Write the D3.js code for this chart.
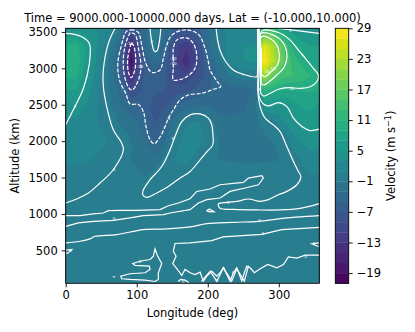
<!DOCTYPE html>
<html>
<head>
<meta charset="utf-8">
<script src="https://cdnjs.cloudflare.com/ajax/libs/d3/7.8.5/d3.min.js"></script>
<style>
body { margin: 0; background: #fff; }
text { font-family: "DejaVu Sans", sans-serif; fill: #000; }
</style>
</head>
<body>
<div id="svgContainer"></div>
<script>
var width = 415;
var height = 332;

// grid the velocity field was read on (deg, km)
var lons = [0, 15, 30, 45, 60, 75, 85, 92, 100, 110, 125, 140, 155, 170, 185, 200, 215, 230, 250, 265, 270, 273, 276, 280, 290, 300, 310, 320, 335, 345, 357];
var alts = [50, 300, 600, 800, 1000, 1250, 1500, 1750, 2000, 2250, 2500, 2700, 2900, 3100, 3300, 3550];

// m/s, one row per altitude, bottom to top
var v50 = [-.2, -.2, -.2, -.2, -.2, -.2, -.2, -.2, -.2, -.2, -.2, -.2, -.2, -.2, -.2, -.2, -.2, -.2, -.2, -.2, -.2, -.2, -.2, -.2, -.2, -.2, -.2, -.2, -.2, -.2, -.2];
var v300 = [-.2, -.2, -.2, -.2, -.2, -.2, -.2, -.2, -.2, -.2, -.1, -.1, -.1, -.2, -.2, -.1, -.1, -.1, -.1, -.1, -.1, -.1, -.1, -.1, -.1, -.1, -.1, -.2, -.2, -.2, -.2];
var v600 = [-.1, -.1, -.1, -.1, -.2, -.2, -.2, -.2, -.2, -.2, -.2, -.2, -.2, -.2, -.2, -.2, -.2, -.2, -.2, -.2, -.2, -.2, -.2, -.2, -.2, -.2, -.2, -.2, -.2, -.1, -.1];
var v800 = [-.1, -.1, -.1, -.2, -.2, -.2, -.2, -.2, -.2, -.2, -.2, -.2, -.2, -.2, -.2, -.2, -.2, -.2, -.2, -.2, -.2, -.2, -.2, -.2, -.2, -.2, -.2, -.2, -.1, -.1, -.1];
var v1000 = [.1, .1, .1, 0, -.1, -.1, -.2, -.2, -.2, -.2, -.2, -.2, -.2, -.2, -.2, -.2, -.2, -.2, -.2, -.2, -.2, -.2, -.2, -.2, -.2, -.2, -.2, -.2, -.1, -.1, -.1];
var v1250 = [.3, .3, .2, -.1, -.2, -.2, -.3, -.3, -.3, -.2, .2, .1, -.1, -.2, -.2, -.2, -.2, -.2, -.2, -.2, -.2, -.2, -.2, -.1, -.2, -.1, -.1, -.1, -.1, -.1, -.1];
var v1500 = [.6, .5, .4, .3, -.2, -.5, -.6, -.7, -.8, -.9, .3, .2, .2, -.3, -.5, -.5, -.4, -.4, -.3, -.2, -.2, -.2, -.1, 0, -.3, -.2, -.1, 0, .3, .7, .8];
var v1750 = [1.2, 1.2, 1.1, .8, .3, -.2, -.8, -1, -1.2, -2.2, -2.5, -.2, 1.2, 1.5, .3, -.9, -1, -1.1, -1.2, -1.2, -1.2, -1.2, -1.2, -1.2, -1.1, -1.05, -.5, 0, 1.5, 1.8, 1.8];
var v2000 = [1.8, 1.8, 1.7, 1.5, 1, .3, -.5, -.9, -1.5, -2.8, -5.3, -3, .5, 1.6, 1.7, .8, -.9, -1.8, -2, -1.8, -1.6, -1.6, -1.5, -1.3, -1, -.7, .2, 2, 3.5, 4, 4];
var v2250 = [2.5, 2.5, 1.7, 1, .3, -1, -1.5, -2, -2.8, -4.7, -7, -4.8, -1.5, .8, 1.3, .5, -1.8, -2.5, -2.5, -1.8, -1.2, -1, -.8, -.6, .1, 1.5, 3, 4.6, 5.8, 6, 6];
var v2500 = [4, 5.2, 2.7, 1, -.5, -2.5, -3.8, -4.8, -5, -5.5, -8, -7.5, -5, -4, -3.5, -3, -4, -4, -3.5, -1.5, -.5, 0, 3.5, 5.3, 5.5, 5.2, 5, 6.5, 7.5, 7.5, 7];
var v2700 = [7, 7, 4, 1.2, -.8, -3.5, -5.5, -10, -8, -6.5, -6.5, -7, -8, -7.5, -6.5, -5.2, -4.3, -4.5, -4, -3, -1.5, .5, 8, 11.5, 10.3, 9.5, 9, 9, 9.3, 9.3, 9];
var v2900 = [9.5, 9.5, 5, 2, -1, -5, -11, -15.5, -11, -7, -6, -6.5, -10.5, -10.5, -8.5, -6.5, -3, -1, .2, -.3, .5, 7, 21, 22, 17.5, 14.5, 13.5, 13, 12, 11, 9.7];
var v3100 = [10.5, 10.5, 6, 2.5, -1, -4.5, -10.5, -19.5, -11.5, -7, -3, -6, -11, -14.5, -10, -5, -1.5, 1.5, 3, 3, 4, 13, 27, 29, 24.5, 20, 14.8, 12, 10, 8, 7.5];
var v3300 = [10, 10, 6.5, 3, 0, -4, -11, -16, -11.5, -4.5, -.5, -4.5, -10.5, -12.5, -9.5, -3.5, -.5, 2, 3, 3, 4, 11, 24, 27, 23.5, 18.5, 14, 10.5, 8, 7, 7];
var v3550 = [4, 4, 4, 3, 2, 0, -6, -7, -6, -4, 1, -3, -6, -7, -6, -3, -.5, 1.5, 2, 2, 2, 3, 10, 12, 13, 9, 7, 5, 4, 4, 4];
var rows = [v50, v300, v600, v800, v1000, v1250, v1500, v1750, v2000, v2250, v2500, v2700, v2900, v3100, v3300, v3550];

// colour levels
var levels = d3.range(-21, 30, 2);
var barTicks = [-19, -13, -7, -1, 5, 11, 17, 23, 29];
var xTicks = [0, 100, 200, 300];
var yTicks = [500, 1000, 1500, 2000, 2500, 3000, 3500];

// overlaid contours, [lon, alt]
var leftBlob = [[0, 2225], [13, 2475], [25, 2726], [33.3, 3068], [33.3, 3342], [22.5, 3434], [10.8, 3470], [0, 3480]];
var zeroLeft = [[69.5, 3550], [60, 3342], [53, 2977], [53, 2749], [57.7, 2475], [67, 2155], [78.8, 1973], [81.2, 1881], [67, 1607], [48.3, 1424], [31.9, 1287], [15.5, 1205], [0, 1150]];
var pocket = [[118.7, 3550], [121.1, 3364], [124.8, 3237], [128.2, 3237], [131.8, 3364], [133.8, 3550]];
var zeroTop = [[211.7, 3550], [213.5, 3411], [217.3, 3250], [224.4, 3104], [236, 2977], [250.1, 2918], [269, 2885], [270, 2950], [270, 3550]];
var lobe = [[109.3, 1333], [118.7, 1470], [135.2, 1652], [146.9, 1881], [153.9, 2063], [163.4, 2268], [175.1, 2360], [189.2, 2374], [200.8, 2315], [205.6, 2223], [207, 2114], [207, 1949], [198.6, 1853], [191.5, 1771], [175.1, 1583], [161, 1493], [144.5, 1378], [128.2, 1288], [114.1, 1227], [108.5, 1264]];
var lineA = [[0, 977], [20.1, 977], [38.9, 1000], [53, 1013], [60, 1045], [76.5, 1049], [100, 1049], [132.8, 1059], [144.5, 1113], [158.6, 1150], [175.1, 1209], [184.5, 1309], [203.2, 1342], [217.3, 1401], [250.1, 1433], [257.2, 1493], [276, 1525], [278.3, 1493], [271.3, 1401], [252.5, 1356], [231.4, 1309], [217.3, 1219], [198.6, 1196], [186.8, 1150], [175.1, 1059], [146.9, 1013], [137.5, 990], [109.3, 977], [90.6, 945], [67, 912], [38.9, 898], [17.7, 876], [0, 830]];
var lineB = [[0, 603], [20.1, 625], [34.2, 657], [41.3, 693], [71.8, 716], [109.3, 785], [142.3, 794], [175.1, 822], [198.6, 867], [236, 885], [271.3, 898], [311.3, 945], [339.4, 967], [357, 977]];
var ringA = [[275.5, 2908], [275.5, 3200], [275.5, 3433], [287.7, 3411], [297.2, 3319], [300.8, 3182], [298, 3045], [289.2, 2953], [280.7, 2885], [276, 2908]];
var ringB = [[275, 2795], [275, 3200], [275, 3479], [292.4, 3456], [305.1, 3364], [311.3, 3205], [307.9, 3022], [297.2, 2908], [287.7, 2826], [278.3, 2771], [275, 2795]];
var ringC = [[274.5, 2657], [274.5, 3200], [276, 3511], [299.4, 3493], [316, 3388], [327.6, 3251], [339.4, 3114], [348.7, 3000], [355.8, 2908], [353.5, 2816], [344.1, 2748], [330, 2726], [313.5, 2734], [299.4, 2712], [287.7, 2657], [278.3, 2620], [275, 2657]];
var ringD = [[272.5, 3550], [272.5, 3000], [272.3, 2611], [278.3, 2511], [285.4, 2484], [299.4, 2529], [311.3, 2474], [320.6, 2315], [332.4, 2200], [344.1, 2145], [357, 2164]];
var ringE = [[271, 3550], [271, 3000], [270.4, 2703], [273.7, 2474], [280.7, 2315], [292.4, 2223], [301.8, 2131], [311.3, 1926], [320.6, 1720], [327.6, 1583], [331, 1515], [325.4, 1401], [311.3, 1310], [299.4, 1264], [285.4, 1196], [273.7, 1172], [257.2, 1205], [240.8, 1172], [226.8, 1159], [214.9, 1137], [217.3, 1077], [236, 1063], [269, 1055], [301.8, 1055], [330, 1077], [357, 1141]];
var topRight = [[299, 3550], [316, 3530], [337, 3505], [357, 3480]];
var dashOuter = [[95.2, 3529], [85.9, 3511], [77.9, 3296], [73.2, 3045], [76.5, 2816], [84.5, 2657], [90.6, 2511], [102.3, 2504], [109.3, 2405], [113.1, 2200], [118.7, 2019], [124.4, 1964], [131.8, 2041], [139.9, 2200], [144.5, 2315], [151.5, 2429], [161, 2566], [172.7, 2634], [191.5, 2657], [207.9, 2712], [218.3, 2748], [213.5, 2816], [203.2, 2977], [200.8, 3090], [196.2, 3274], [186.8, 3466], [168, 3529], [149.3, 3456], [142.3, 3319], [137.5, 3137], [132.8, 2977], [121.1, 2945], [112.7, 3069], [107, 3319], [102.3, 3493], [95.2, 3529]];
var dashMid = [[90.6, 3493], [84.5, 3342], [81.1, 3137], [82.5, 2908], [89.2, 2726], [93.8, 2703], [102.3, 2840], [106, 3022], [102.3, 3274], [97.6, 3466], [90.6, 3493]];
var dashCore = [[92, 3342], [87.3, 3137], [88.2, 2953], [92, 2871], [96.6, 2953], [98.6, 3137], [95.2, 3319], [92, 3342]];
var dashSecond = [[151.5, 3137], [151.5, 3274], [156.3, 3388], [170.4, 3419], [179.7, 3342], [184.5, 3182], [182.1, 3000], [170.4, 2885], [158.6, 2840], [151.5, 2840], [151.5, 3000], [151.5, 3137]];

// noisy low level contours, kept straight segment to segment
var noiseRight = [[357, 433], [337, 433], [325.4, 392], [313.5, 411], [306.5, 305], [297.2, 260], [284.5, 305], [273.7, 246], [265.6, 192], [259.6, 260], [254.9, 282], [251.5, 192], [247.9, 76], [240.8, 260], [236, 192], [231.4, 76], [226.8, 168], [222, 260], [217.3, 192], [212.7, 145], [205.6, 213], [198.6, 145], [193.8, 76], [189.2, 200], [182.1, 168], [175.1, 192], [168, 237], [163.4, 155], [157.2, 237], [150.7, 319], [155.4, 419], [151.5, 487], [153.9, 594], [175.1, 603], [205.6, 634], [221.5, 685], [276, 720], [304.2, 785], [357, 816]];
var noiseCross = [[191.5, 76], [203.2, 213], [212.7, 76], [222, 260], [233.7, 76], [240.8, 246], [251.5, 76], [257.2, 282]];
var noiseLeft = [[123.4, 419], [125.8, 520], [129, 428], [135.2, 319], [130.4, 192], [130.4, 100], [125.8, 72], [111.7, 90], [90.6, 100], [78.9, 109], [77.5, 145], [90.6, 178], [111.7, 192], [118.7, 237], [117.7, 282], [97.6, 292], [94.4, 319], [104.6, 350], [118.7, 374], [123.4, 419]];
var noiseBottom = [[158.6, 76], [162, 100], [168, 90], [172.7, 60]];
var speckDot = [[67, 137], [69, 137]];
var speckLeft = [[0, 502], [8.5, 510], [2.3, 455], [0, 470]];
var speckRight = [[357, 602], [346.5, 589], [351, 570], [357, 552]];
var speckMid = [[198.6, 1045], [202.3, 1068], [208.9, 1031], [202.3, 1027], [198.6, 1045]];

var smoothLines = [leftBlob, zeroLeft, pocket, zeroTop, lobe.concat([lobe[0]]), lineB, ringA, ringB, ringC, ringD, ringE, topRight];
var dashedLines = [dashOuter, dashMid, dashCore, dashSecond];
var jaggedLines = [lineA, noiseRight, noiseCross, noiseLeft, noiseBottom, speckDot, speckLeft, speckRight, speckMid];

// inline contour labels
var labelLon = [68, 68, 104.6, 7, 165, 229, 200.8, 272.7, 277.5, 349.7, 338, 222, 236, 212.7, 13.1, 121.1, 90.6, 104.8, 151.5, 151.5, 144.5, 150.7, 316, 284.5, 292, 318.3, 273.7, 271.3, 272.7];
var labelAlt = [1607, 931, 350, 501, 76, 1159, 1045, 912, 726, 589, 419, 246, 192, 86, 2474, 3374, 3333, 3022, 3140, 3060, 2306, 2041, 3525, 2960, 2990, 2726, 3114, 3515, 2703];
var labelText = ["0", "0", "0", "0", "0", "0", "0", "0", "0", "0", "0", "0", "0", "0", "5", "0", "-15", "-10", "-10", "-10", "-5", "0", "5", "20", "15", "10", "0", "0", "5"];

var box = { left: 65.7, right: 319.3, top: 28.3, bottom: 283.3 };
var bar = { left: 335.3, right: 348.7 };
var fontSize = 11.5;

var svgContainer = d3.select("#svgContainer").append("svg")
  .attr("width", width)
  .attr("height", height);

var x = d3.scaleLinear().domain([0, 357]).range([box.left, box.right]);
var y = d3.scaleLinear().domain([47, 3550]).range([box.bottom, box.top]);
var barY = d3.scaleLinear().domain([-21, 29]).range([box.bottom, box.top]);

var levelColor = function(level) {
  return d3.interpolateViridis((level + 1 + 21) / 50);
};

svgContainer.append("clipPath").attr("id", "plotClip").append("rect")
  .attr("x", box.left)
  .attr("y", box.top)
  .attr("width", box.right - box.left)
  .attr("height", box.bottom - box.top);

var plot = svgContainer.append("g").attr("clip-path", "url(#plotClip)");

// filled field
plot.append("rect")
  .attr("x", box.left)
  .attr("y", box.top)
  .attr("width", box.right - box.left)
  .attr("height", box.bottom - box.top)
  .attr("fill", levelColor(-1));

var lonOfIndex = d3.scaleLinear().domain(d3.range(lons.length)).range(lons).clamp(true);
var altOfIndex = d3.scaleLinear().domain(d3.range(alts.length)).range(alts).clamp(true);
var gridPath = d3.geoPath(d3.geoTransform({
  point: function(i, j) {
    this.stream.point(x(lonOfIndex(i - 0.5)), y(altOfIndex(j - 0.5)));
  }
}));

var contours = d3.contours()
  .size([lons.length, alts.length])
  .thresholds(levels)(d3.merge(rows));

plot.selectAll("path.band")
  .data(contours)
  .enter().append("path")
  .attr("class", "band")
  .attr("d", gridPath)
  .attr("fill", function(d) { return levelColor(d.value); });

// white contours
var smooth = d3.line()
  .x(function(d) { return x(d[0]); })
  .y(function(d) { return y(d[1]); })
  .curve(d3.curveCatmullRom.alpha(0.5));
var jagged = d3.line()
  .x(function(d) { return x(d[0]); })
  .y(function(d) { return y(d[1]); });

var drawLines = function(lines, gen, dash) {
  plot.selectAll(null)
    .data(lines)
    .enter().append("path")
    .attr("d", gen)
    .attr("fill", "none")
    .attr("stroke", "#fff")
    .attr("stroke-width", 1.2)
    .attr("stroke-linecap", dash ? "butt" : "round")
    .attr("stroke-dasharray", dash);
};
drawLines(smoothLines, smooth, null);
drawLines(dashedLines, smooth, "4,1.7");
drawLines(jaggedLines, jagged, null);

plot.selectAll("text")
  .data(labelText)
  .enter().append("text")
  .attr("x", function(d, i) { return x(labelLon[i]); })
  .attr("y", function(d, i) { return y(labelAlt[i]); })
  .attr("dy", "0.35em")
  .attr("text-anchor", "middle")
  .attr("font-size", 4)
  .style("fill", "#fff")
  .text(function(d) { return d; });

// frame and axes
svgContainer.append("rect")
  .attr("x", box.left)
  .attr("y", box.top)
  .attr("width", box.right - box.left)
  .attr("height", box.bottom - box.top)
  .attr("fill", "none")
  .attr("stroke", "#000")
  .attr("stroke-width", 0.9);

var styleAxis = function(g) {
  g.selectAll("path").remove();
  g.selectAll("line").attr("stroke", "#000").attr("stroke-width", 0.9);
  g.selectAll("text").attr("font-size", fontSize).attr("font-family", "DejaVu Sans");
};

svgContainer.append("g")
  .attr("transform", "translate(0," + box.bottom + ")")
  .call(d3.axisBottom(x).tickValues(xTicks).tickSize(4).tickPadding(4).tickFormat(d3.format("d")))
  .call(styleAxis);

svgContainer.append("g")
  .attr("transform", "translate(" + box.left + ",0)")
  .call(d3.axisLeft(y).tickValues(yTicks).tickSize(4).tickPadding(4).tickFormat(d3.format("d")))
  .call(styleAxis);

// colour bar
svgContainer.selectAll("rect.bar")
  .data(levels.slice(0, -1))
  .enter().append("rect")
  .attr("class", "bar")
  .attr("x", bar.left)
  .attr("width", bar.right - bar.left)
  .attr("y", function(d) { return barY(d + 2); })
  .attr("height", function(d) { return barY(d) - barY(d + 2) + 0.3; })
  .attr("fill", levelColor);

svgContainer.append("rect")
  .attr("x", bar.left)
  .attr("y", box.top)
  .attr("width", bar.right - bar.left)
  .attr("height", box.bottom - box.top)
  .attr("fill", "none")
  .attr("stroke", "#000")
  .attr("stroke-width", 0.9);

svgContainer.append("g")
  .attr("transform", "translate(" + bar.right + ",0)")
  .call(d3.axisRight(barY).tickValues(barTicks).tickSize(4).tickPadding(4).tickFormat(d3.format("d")))
  .call(styleAxis);

// titles
svgContainer.append("text")
  .attr("x", 192.5)
  .attr("y", 22)
  .attr("text-anchor", "middle")
  .attr("font-size", fontSize)
  .text("Time = 9000.000-10000.000 days, Lat = (-10.000,10.000)");

svgContainer.append("text")
  .attr("x", 192.5)
  .attr("y", 317)
  .attr("text-anchor", "middle")
  .attr("font-size", fontSize)
  .text("Longitude (deg)");

svgContainer.append("text")
  .attr("transform", "translate(19,155.8) rotate(-90)")
  .attr("text-anchor", "middle")
  .attr("font-size", fontSize)
  .text("Altitude (km)");

var barLabel = svgContainer.append("text")
  .attr("transform", "translate(395,155.8) rotate(-90)")
  .attr("text-anchor", "middle")
  .attr("font-size", fontSize);
barLabel.append("tspan").text("Velocity (m s");
barLabel.append("tspan").attr("dy", -4).attr("font-size", 8).text("\u22121");
barLabel.append("tspan").attr("dy", 4).text(")");
</script>
</body>
</html>
